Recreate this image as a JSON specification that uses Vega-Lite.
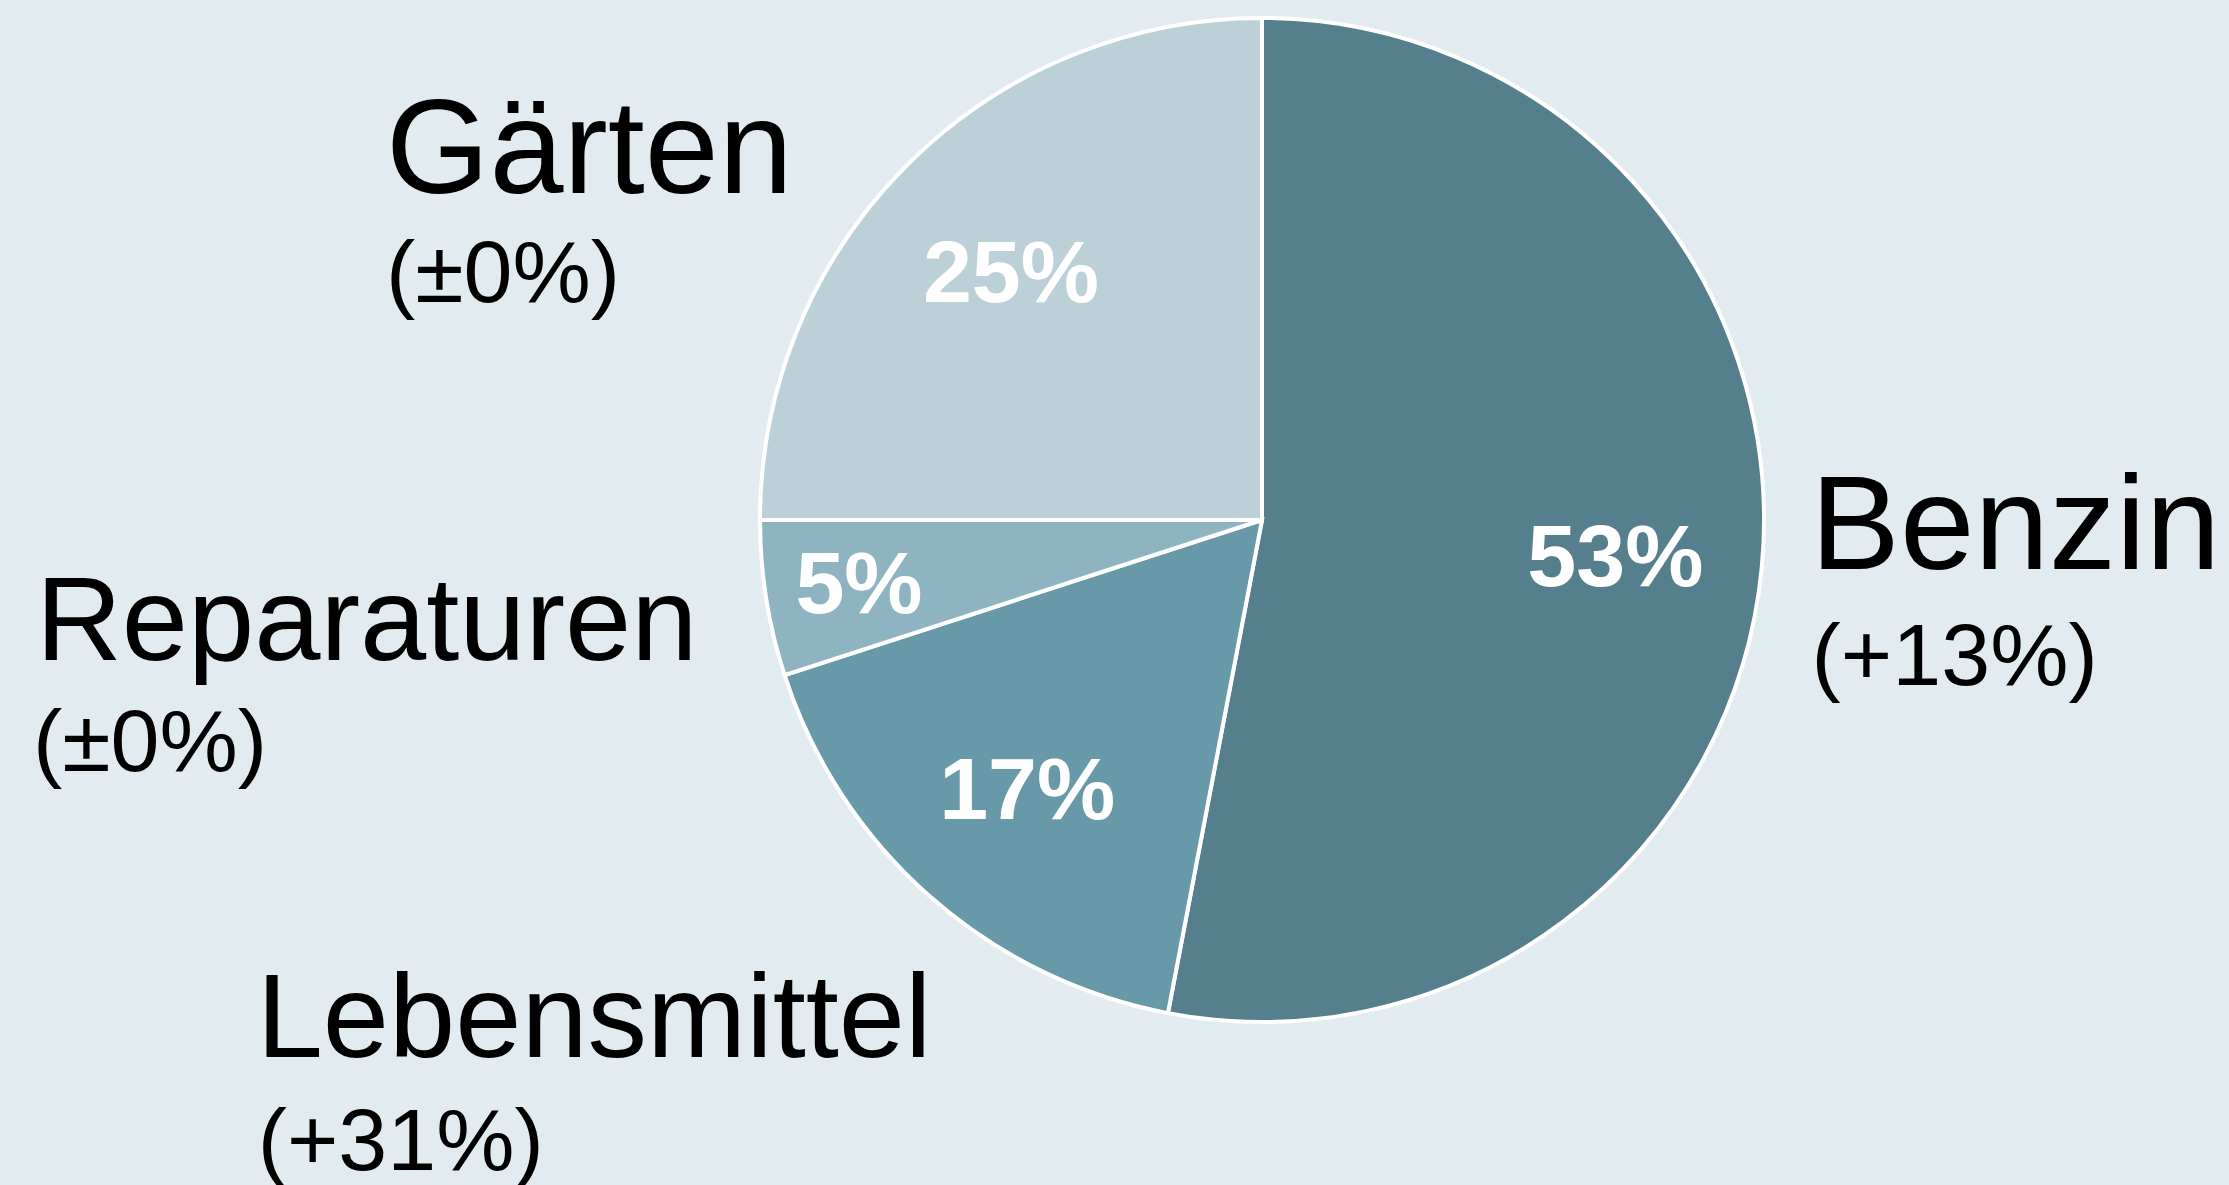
{
  "$schema": "https://vega.github.io/schema/vega-lite/v6.json",
  "autosize": "none",
  "width": 1936,
  "height": 1040,
  "padding": {"left": 294, "top": 0, "right": -1, "bottom": 145},
  "background": "#E2EBF0",
  "config": {"view": {"stroke": null}, "text": {"font": "Liberation Sans"}},
  "data": {
    "values": [
      {"category": "Benzin", "share": 0.53, "rank": 1, "change": "(+13%)"},
      {"category": "Lebensmittel", "share": 0.17, "rank": 2, "change": "(+31%)"},
      {"category": "Reparaturen", "share": 0.05, "rank": 3, "change": "(±0%)"},
      {"category": "Gärten", "share": 0.25, "rank": 4, "change": "(±0%)"}
    ]
  },
  "encoding": {
    "theta": {"field": "share", "type": "quantitative", "stack": true},
    "order": {"field": "rank", "type": "quantitative"}
  },
  "layer": [
    {
      "mark": {"type": "arc", "radius": 502, "stroke": "#FFFFFF", "strokeWidth": 4},
      "encoding": {
        "color": {
          "field": "category",
          "type": "nominal",
          "scale": {
            "domain": ["Benzin", "Lebensmittel", "Reparaturen", "Gärten"],
            "range": ["#557F8C", "#6899A8", "#8FB4C1", "#BBD0D7"]
          },
          "legend": null
        }
      }
    },
    {
      "mark": {"type": "text", "radius": 355, "dy": 33, "align": "center", "baseline": "alphabetic", "fontSize": 88, "fontWeight": "bold", "fill": "#FFFFFF"},
      "encoding": {"text": {"condition": {"test": "datum.category !== 'Reparaturen'", "field": "share", "type": "quantitative", "format": ".0%"}, "value": ""}}
    },
    {
      "mark": {"type": "text", "radius": 408, "dy": 29, "align": "center", "baseline": "alphabetic", "fontSize": 88, "fontWeight": "bold", "fill": "#FFFFFF"},
      "encoding": {"text": {"condition": {"test": "datum.category === 'Reparaturen'", "field": "share", "type": "quantitative", "format": ".0%"}, "value": ""}}
    },
    {
      "mark": {"type": "text", "radius": 551, "dx": 0, "dy": -3, "align": "left", "baseline": "alphabetic", "fontSize": 134, "fill": "#000000"},
      "encoding": {"text": {"condition": {"test": "datum.category === 'Benzin'", "field": "category"}, "value": ""}}
    },
    {
      "mark": {"type": "text", "radius": 551, "dx": 1, "dy": 113, "align": "left", "baseline": "alphabetic", "fontSize": 88, "fill": "#000000"},
      "encoding": {"text": {"condition": {"test": "datum.category === 'Benzin'", "field": "change"}, "value": ""}}
    },
    {
      "mark": {"type": "text", "radius": 560, "dx": -480, "dy": 69, "align": "left", "baseline": "alphabetic", "fontSize": 133, "fill": "#000000"},
      "encoding": {"text": {"condition": {"test": "datum.category === 'Gärten'", "field": "category"}, "value": ""}}
    },
    {
      "mark": {"type": "text", "radius": 560, "dx": -480, "dy": 178, "align": "left", "baseline": "alphabetic", "fontSize": 88, "fill": "#000000"},
      "encoding": {"text": {"condition": {"test": "datum.category === 'Gärten'", "field": "change"}, "value": ""}}
    },
    {
      "mark": {"type": "text", "radius": 560, "dx": -673, "dy": 52, "align": "left", "baseline": "alphabetic", "fontSize": 119, "fill": "#000000"},
      "encoding": {"text": {"condition": {"test": "datum.category === 'Reparaturen'", "field": "category"}, "value": ""}}
    },
    {
      "mark": {"type": "text", "radius": 560, "dx": -676, "dy": 163, "align": "left", "baseline": "alphabetic", "fontSize": 88, "fill": "#000000"},
      "encoding": {"text": {"condition": {"test": "datum.category === 'Reparaturen'", "field": "change"}, "value": ""}}
    },
    {
      "mark": {"type": "text", "radius": 560, "dx": -635, "dy": 117, "align": "left", "baseline": "alphabetic", "fontSize": 119, "fill": "#000000"},
      "encoding": {"text": {"condition": {"test": "datum.category === 'Lebensmittel'", "field": "category"}, "value": ""}}
    },
    {
      "mark": {"type": "text", "radius": 560, "dx": -634, "dy": 230, "align": "left", "baseline": "alphabetic", "fontSize": 88, "fill": "#000000"},
      "encoding": {"text": {"condition": {"test": "datum.category === 'Lebensmittel'", "field": "change"}, "value": ""}}
    }
  ]
}
